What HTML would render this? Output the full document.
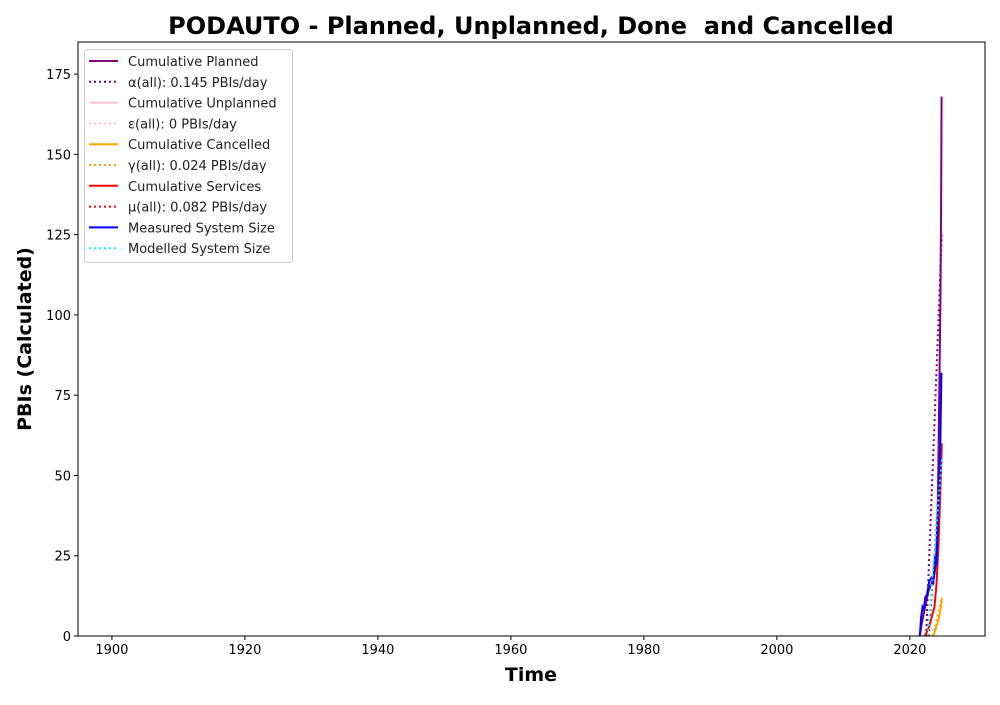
<!DOCTYPE html>
<html><head><meta charset="utf-8"><style>
body{margin:0;background:#fff;font-family:"Liberation Sans","DejaVu Sans",sans-serif}
svg text{font-family:"DejaVu Sans","Liberation Sans",sans-serif}
</style></head><body>
<svg id="c" width="1000" height="700" xmlns="http://www.w3.org/2000/svg"></svg>
<script>
const xTicks=[1900,1920,1940,1960,1980,2000,2020];
const yTicks=[0,25,50,75,100,125,150,175];
const plannedX=[2021.5,2021.8,2022.1,2022.4,2022.8,2023.2,2023.6,2023.9,2024.2,2024.45,2024.6,2024.7,2024.77];
const plannedY=[0,4,7,10,14,16,18,22,40,80,105,135,168];
const alphaX=[2022.45,2024.8];const alphaY=[0,125];
const cancelX=[2023.4,2023.7,2024.0,2024.3,2024.5,2024.7,2024.8];
const cancelY=[0,1,3,5,7,9,12];
const gammaX=[2023.45,2024.8];const gammaY=[0,12];
const servX=[2022.2,2022.5,2022.9,2023.3,2023.7,2024.0,2024.3,2024.5,2024.7,2024.8];
const servY=[0,1,3,6,9,16,28,40,52,60];
const muX=[2022.85,2024.8];const muY=[0,59];
const measX=[2021.5,2021.7,2021.9,2022.1,2022.3,2022.6,2022.9,2023.2,2023.5,2023.8,2024.0,2024.2,2024.4,2024.55,2024.65,2024.75];
const measY=[0,6,9,8,12,13,17,18,16,25,22,35,45,55,70,82];
const modX=[2022.7,2024.8];const modY=[0,55];
const X0=78,X1=985,Y0=636,Y1=42,xmin=1894.9,xmax=2031.3,ymin=0,ymax=185;
const sx=v=>X0+(v-xmin)/(xmax-xmin)*(X1-X0);
const sy=v=>Y0-(v-ymin)/(ymax-ymin)*(Y0-Y1);
const svg=document.getElementById('c');const NS='http://www.w3.org/2000/svg';
function mk(t,a,p){const e=document.createElementNS(NS,t);for(const k in a)e.setAttribute(k,a[k]);(p||svg).appendChild(e);return e;}
const clip=mk('clipPath',{id:'pc'});mk('rect',{x:X0,y:Y1,width:X1-X0,height:Y0-Y1},clip);
const series=[[plannedX,plannedY,'purple',null,'planned-line'],[alphaX,alphaY,'purple','2,3','alpha-line'],
[cancelX,cancelY,'orange',null,'cancelled-line'],[gammaX,gammaY,'orange','2,3','gamma-line'],
[servX,servY,'red',null,'services-line'],[muX,muY,'red','2,3','mu-line'],
[measX,measY,'blue',null,'measured-size-line'],[modX,modY,'cyan','2,3','modelled-size-line']];
series.forEach(s=>{const pts=s[0].map((x,i)=>sx(x)+','+sy(s[1][i])).join(' ');
const a={points:pts,fill:'none',stroke:s[2],'stroke-width':2,'clip-path':'url(#pc)'};if(s[3])a['stroke-dasharray']=s[3];
const e=mk('polyline',a);

});
mk('rect',{x:X0,y:Y1,width:X1-X0,height:Y0-Y1,fill:'none',stroke:'#000','stroke-width':1});
xTicks.forEach(t=>{const x=sx(t);mk('line',{x1:x,x2:x,y1:Y0,y2:Y0+4,stroke:'#000'});
const e=mk('text',{x:x,y:Y0+18,'text-anchor':'middle','font-size':13});e.textContent=t;

});
yTicks.forEach(t=>{const y=sy(t);mk('line',{x1:X0-4,x2:X0,y1:y,y2:y,stroke:'#000'});
const e=mk('text',{x:X0-7,y:y+5,'text-anchor':'end','font-size':13});e.textContent=t;

});
const tt=mk('text',{x:531,y:34,'text-anchor':'middle','font-size':24,'font-weight':'bold',style:'white-space:pre'});tt.textContent='PODAUTO - Planned, Unplanned, Done  and Cancelled';


const xt=mk('text',{x:531,y:681,'text-anchor':'middle','font-size':19,'font-weight':'bold'});xt.textContent='Time';


const yt=mk('text',{x:0,y:0,transform:'translate(31,339) rotate(-90)','text-anchor':'middle','font-size':19,'font-weight':'bold'});yt.textContent='PBIs (Calculated)';


const lg=mk('g',{});


mk('rect',{x:84.5,y:49.5,width:208,height:213,rx:3,fill:'#fff',stroke:'#ccc'},lg);
const legLabels=['Cumulative Planned','α(all): 0.145 PBIs/day','Cumulative Unplanned','ε(all): 0 PBIs/day','Cumulative Cancelled','γ(all): 0.024 PBIs/day','Cumulative Services','μ(all): 0.082 PBIs/day','Measured System Size','Modelled System Size'];
const legCols=['purple','purple','pink','pink','orange','orange','red','red','blue','cyan'];
legLabels.forEach((l,i)=>{const y=61+i*20.8;
const a={x1:89,x2:118,y1:y,y2:y,stroke:legCols[i],'stroke-width':2};if(i%2)a['stroke-dasharray']='2,3';mk('line',a,lg);
const e=mk('text',{x:128,y:y+5,'font-size':13,fill:'#222'},lg);e.textContent=l;

});
</script>
</body></html>
